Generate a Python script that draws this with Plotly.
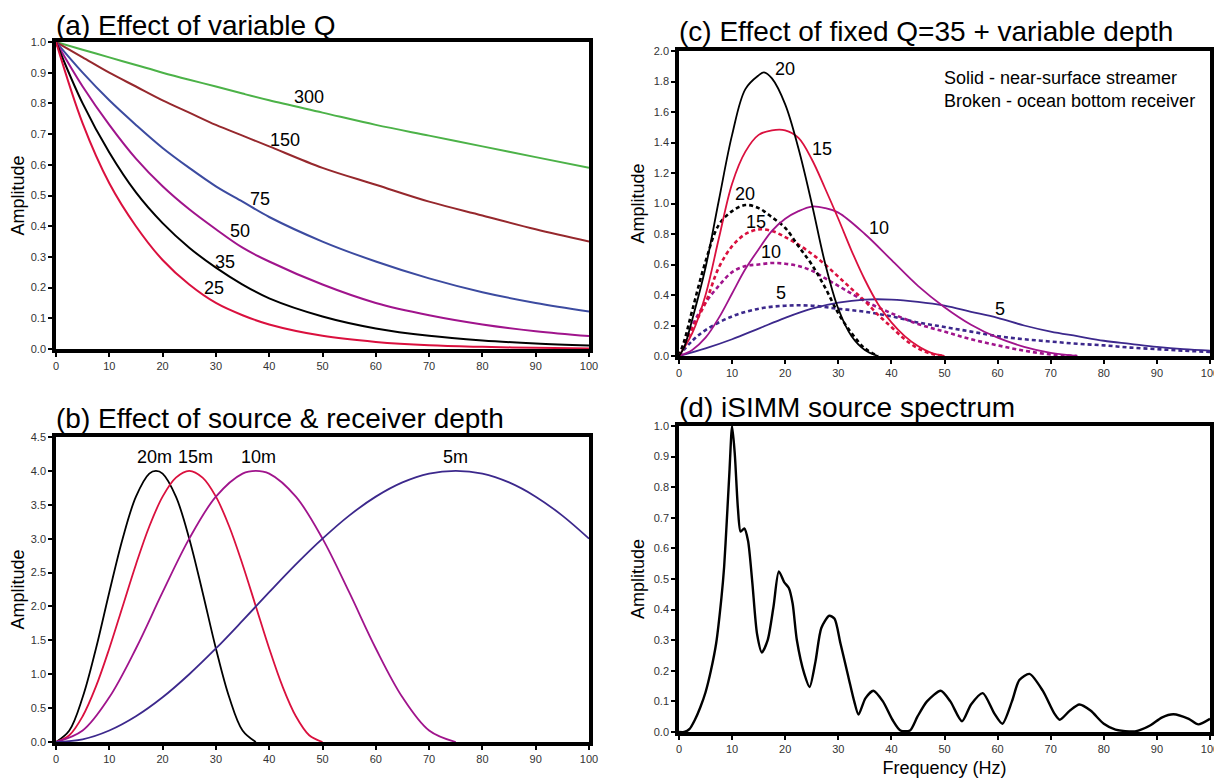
import plotly.graph_objects as go

# ---------------- (a) Effect of variable Q ----------------
freq_a = [0, 5, 10, 15, 20, 25, 30, 35, 40, 50, 60, 70, 80, 90, 100]
amp_q300 = [1.0, 0.975, 0.95, 0.925, 0.90, 0.877, 0.855, 0.832, 0.81, 0.77, 0.73, 0.695, 0.66, 0.625, 0.59]
amp_q150 = [1.0, 0.95, 0.90, 0.855, 0.81, 0.77, 0.73, 0.695, 0.66, 0.59, 0.535, 0.48, 0.435, 0.39, 0.35]
amp_q75 = [1.0, 0.90, 0.81, 0.73, 0.655, 0.59, 0.53, 0.48, 0.43, 0.35, 0.285, 0.23, 0.185, 0.15, 0.122]
amp_q50 = [1.0, 0.855, 0.73, 0.62, 0.53, 0.455, 0.39, 0.33, 0.285, 0.21, 0.15, 0.11, 0.08, 0.058, 0.042]
amp_q35 = [1.0, 0.80, 0.64, 0.51, 0.41, 0.33, 0.265, 0.21, 0.165, 0.106, 0.067, 0.043, 0.028, 0.018, 0.011]
amp_q25 = [1.0, 0.735, 0.54, 0.40, 0.29, 0.21, 0.15, 0.11, 0.08, 0.043, 0.023, 0.012, 0.007, 0.004, 0.002]
q_labels = ["300", "150", "75", "50", "35", "25"]

# ---------------- (b) Effect of source & receiver depth ----------------
freq_b20 = [0, 2.5, 5, 7.5, 10, 12.5, 15, 17.5, 18.75, 20, 22.5, 25, 27.5, 30, 32.5, 35, 37.5]
amp_b20 = [0, 0.17, 0.66, 1.38, 2.21, 3.0, 3.62, 3.96, 4.0, 3.96, 3.62, 3.0, 2.21, 1.38, 0.66, 0.17, 0]
freq_b15 = [0, 2.5, 5, 7.5, 10, 12.5, 15, 17.5, 20, 22.5, 25, 27.5, 30, 32.5, 35, 37.5, 40, 42.5, 45, 47.5, 50]
amp_b15 = [0, 0.1, 0.38, 0.82, 1.38, 2.0, 2.62, 3.18, 3.62, 3.9, 4.0, 3.9, 3.62, 3.18, 2.62, 2.0, 1.38, 0.82, 0.38, 0.1, 0]
freq_b10 = [0, 5, 10, 15, 20, 25, 30, 35, 37.5, 40, 45, 50, 55, 60, 65, 70, 75]
amp_b10 = [0, 0.17, 0.66, 1.38, 2.21, 3.0, 3.62, 3.96, 4.0, 3.96, 3.62, 3.0, 2.21, 1.38, 0.66, 0.17, 0]
freq_b5 = [0, 5, 10, 15, 20, 25, 30, 35, 40, 45, 50, 55, 60, 65, 70, 75, 80, 85, 90, 95, 100]
amp_b5 = [0, 0.04, 0.17, 0.38, 0.66, 1.0, 1.38, 1.79, 2.21, 2.62, 3.0, 3.34, 3.62, 3.83, 3.96, 4.0, 3.96, 3.83, 3.62, 3.34, 3.0]
depth_labels = ["20m", "15m", "10m", "5m"]

# ---------------- (c) Effect of fixed Q=35 + variable depth ----------------
# solid: near-surface streamer
freq_c20 = [0, 1, 2.5, 5, 7.5, 10, 12.5, 15, 16, 17.5, 20, 22.5, 25, 27.5, 30, 32.5, 35, 37.5]
amp_c20 = [0, 0.06, 0.24, 0.58, 1.02, 1.45, 1.75, 1.84, 1.86, 1.82, 1.65, 1.36, 1.0, 0.61, 0.31, 0.13, 0.04, 0]
freq_c15 = [0, 2.5, 5, 7.5, 10, 12.5, 15, 17.5, 20, 22.5, 25, 27.5, 30, 32.5, 35, 37.5, 40, 42.5, 45, 47.5, 50]
amp_c15 = [0, 0.15, 0.4, 0.77, 1.13, 1.34, 1.45, 1.48, 1.48, 1.43, 1.29, 1.1, 0.9, 0.69, 0.5, 0.34, 0.22, 0.13, 0.065, 0.02, 0]
freq_c10 = [0, 2.5, 5, 7.5, 10, 12.5, 15, 17.5, 20, 22.5, 25, 27.5, 30, 35, 40, 45, 50, 55, 60, 65, 70, 75]
amp_c10 = [0, 0.04, 0.12, 0.25, 0.41, 0.57, 0.7, 0.82, 0.9, 0.95, 0.98, 0.97, 0.94, 0.8, 0.63, 0.46, 0.32, 0.205, 0.12, 0.06, 0.02, 0]
freq_c5 = [0, 5, 10, 15, 20, 25, 30, 35, 40, 45, 50, 55, 60, 65, 70, 75, 80, 85, 90, 95, 100]
amp_c5 = [0, 0.05, 0.11, 0.18, 0.25, 0.31, 0.35, 0.37, 0.37, 0.355, 0.33, 0.29, 0.25, 0.2, 0.16, 0.13, 0.1, 0.08, 0.06, 0.045, 0.035]
# broken: ocean bottom receiver
freq_c20_obs = [0, 1, 2.5, 5, 7.5, 10, 12.5, 15, 17.5, 20, 22.5, 25, 27.5, 30, 32.5, 35, 37.5]
amp_c20_obs = [0, 0.1, 0.3, 0.62, 0.86, 0.95, 0.99, 0.97, 0.91, 0.84, 0.72, 0.6, 0.45, 0.28, 0.15, 0.05, 0]
freq_c15_obs = [0, 2.5, 5, 7.5, 10, 12.5, 15, 17.5, 20, 22.5, 25, 27.5, 30, 32.5, 35, 37.5, 40, 42.5, 45, 47.5, 50]
amp_c15_obs = [0, 0.18, 0.35, 0.58, 0.72, 0.8, 0.83, 0.82, 0.78, 0.73, 0.67, 0.6, 0.52, 0.44, 0.36, 0.27, 0.19, 0.11, 0.05, 0.015, 0]
freq_c10_obs = [0, 2.5, 5, 7.5, 10, 12.5, 15, 17.5, 20, 22.5, 25, 27.5, 30, 35, 40, 45, 50, 55, 60, 65, 70, 75]
amp_c10_obs = [0, 0.2, 0.35, 0.46, 0.55, 0.59, 0.6, 0.61, 0.605, 0.59, 0.56, 0.51, 0.46, 0.36, 0.28, 0.21, 0.16, 0.11, 0.07, 0.035, 0.01, 0]
freq_c5_obs = [0, 2.5, 5, 10, 15, 20, 25, 30, 35, 40, 45, 50, 55, 60, 65, 70, 75, 80, 85, 90, 95, 100]
amp_c5_obs = [0, 0.1, 0.17, 0.26, 0.31, 0.33, 0.33, 0.31, 0.29, 0.26, 0.22, 0.19, 0.16, 0.13, 0.11, 0.095, 0.08, 0.07, 0.055, 0.045, 0.035, 0.027]
c_labels = ["20", "15", "10", "5"]

# ---------------- (d) iSIMM source spectrum ----------------
freq_d = [0, 1, 2, 3, 4, 5, 6, 7, 8, 8.5, 9, 9.5, 10, 10.5, 11.1, 11.6, 12.3, 13, 13.8, 14.7,
          15.6, 16.7, 17.8, 18.8, 19.8, 20.7, 21.4, 22.2, 23.6, 24.6, 25.7, 26.8, 28.3, 29.3,
          30.4, 31.9, 33, 33.8, 35.1, 36.6, 38.4, 40.2, 41.7, 43.5, 44.9, 46.7, 49.3, 51.1,
          53.3, 55, 57.2, 59.4, 60.9, 62.7, 64.1, 66, 68.5, 70.7, 71.7, 73.6, 75.4, 77.5, 80,
          82.2, 85.9, 88.8, 90.9, 93.1, 96, 97.8, 100]
amp_d = [0, 0, 0.01, 0.04, 0.08, 0.13, 0.2, 0.29, 0.44, 0.54, 0.69, 0.85, 1.0, 0.91, 0.73,
         0.655, 0.665, 0.625, 0.49, 0.32, 0.26, 0.3, 0.41, 0.525, 0.49, 0.47, 0.42, 0.3, 0.19,
         0.147, 0.23, 0.34, 0.38, 0.37, 0.29, 0.18, 0.1, 0.057, 0.11, 0.135, 0.1, 0.04, 0.005,
         0.005, 0.05, 0.1, 0.135, 0.1, 0.035, 0.09, 0.127, 0.06, 0.027, 0.1, 0.17, 0.19, 0.135,
         0.06, 0.04, 0.07, 0.09, 0.07, 0.027, 0.008, 0.002, 0.022, 0.047, 0.058, 0.043, 0.025, 0.043]

GREEN = "rgb(76,178,72)"
BROWN = "rgb(150,40,45)"
BLUE_A = "rgb(60,75,160)"
PURPLE = "rgb(160,20,140)"
RED = "rgb(218,16,62)"
INDIGO = "rgb(60,40,140)"
BLACK = "black"
FONT = "Liberation Sans, Arial, sans-serif"

# the page body has an 8px margin, so the figure is shifted by that much
OFF = 8
W, H = 1222 - OFF, 782 - OFF


def px_x(p):
    return (p - OFF) / W


def px_y(p):
    return 1 - (p - OFF) / H


# plot boxes in page pixels (left, top, right, bottom)
boxes = {
    "a": (56, 42, 589, 349),
    "b": (56, 437, 589, 742),
    "c": (679, 51, 1210, 356),
    "d": (679, 426, 1210, 732),
}
axis_ids = {"a": "", "b": "2", "c": "3", "d": "4"}

fig = go.Figure()


def add_line(panel, x, y, color, width=2, dash="solid", smoothing=1.0):
    n = axis_ids[panel]
    fig.add_trace(go.Scatter(
        x=x, y=y, mode="lines",
        line=dict(color=color, width=width, dash=dash, shape="spline", smoothing=smoothing),
        xaxis="x" + n, yaxis="y" + n, showlegend=False, hoverinfo="skip",
    ))


# (a)
for amp, col in zip([amp_q300, amp_q150, amp_q75, amp_q50, amp_q35, amp_q25],
                    [GREEN, BROWN, BLUE_A, PURPLE, BLACK, RED]):
    add_line("a", freq_a, amp, col, width=2)

# (b)
for fx, amp, col in zip([freq_b20, freq_b15, freq_b10, freq_b5],
                        [amp_b20, amp_b15, amp_b10, amp_b5],
                        [BLACK, RED, PURPLE, INDIGO]):
    add_line("b", fx, amp, col, width=1.8)

# (c) broken first so solid sits on top
for fx, amp, col in zip([freq_c5_obs, freq_c10_obs, freq_c15_obs, freq_c20_obs],
                        [amp_c5_obs, amp_c10_obs, amp_c15_obs, amp_c20_obs],
                        [INDIGO, PURPLE, RED, BLACK]):
    add_line("c", fx, amp, col, width=2.6, dash="4px,3px")
for fx, amp, col in zip([freq_c5, freq_c10, freq_c15, freq_c20],
                        [amp_c5, amp_c10, amp_c15, amp_c20],
                        [INDIGO, PURPLE, RED, BLACK]):
    add_line("c", fx, amp, col, width=1.8)

# (d)
add_line("d", freq_d, amp_d, BLACK, width=2.4, smoothing=0.7)

y_ranges = {"a": (0, 1.0, 0.1), "b": (0, 4.5, 0.5), "c": (0, 2.0, 0.2), "d": (0, 1.0, 0.1)}

layout = dict(
    width=W, height=H,
    margin=dict(l=0, r=0, t=0, b=0, autoexpand=False),
    paper_bgcolor="white", plot_bgcolor="white",
    font=dict(family=FONT, color="black"),
)
for p, (l, t, r, b) in boxes.items():
    n = axis_ids[p]
    y0, y1, dy = y_ranges[p]
    layout["xaxis" + n] = dict(
        domain=[px_x(l), px_x(r)], anchor="y" + n, range=[0, 100], automargin=False,
        tickmode="linear", tick0=0, dtick=10, ticks="outside", ticklen=4, tickwidth=1.5,
        tickcolor="black", showline=True, linecolor="black", linewidth=3.5, mirror=True,
        showgrid=False, zeroline=False, tickfont=dict(size=11, color="#333333"),
    )
    layout["yaxis" + n] = dict(
        domain=[px_y(b), px_y(t)], anchor="x" + n, range=[y0, y1], automargin=False,
        tickmode="linear", tick0=0, dtick=dy, tickformat=".1f", ticks="outside", ticklen=4,
        tickwidth=1.5, tickcolor="black", showline=True, linecolor="black", linewidth=3.5,
        mirror=True, showgrid=False, zeroline=False, tickfont=dict(size=11, color="#333333"),
        title=dict(text="Amplitude", font=dict(size=18), standoff=5),
    )
layout["xaxis4"]["title"] = dict(text="Frequency (Hz)", font=dict(size=18), standoff=8)
fig.update_layout(**layout)

# panel titles (vertical centre in page pixels)
titles = {
    "a": ("(a) Effect of variable Q", 25),
    "b": ("(b) Effect of source & receiver depth", 418),
    "c": ("(c) Effect of fixed Q=35 + variable depth", 31),
    "d": ("(d) iSIMM source spectrum", 407),
}
for p, (txt, cy) in titles.items():
    l, t, r, b = boxes[p]
    fig.add_annotation(text=txt, xref="paper", yref="paper", x=px_x(l - 2), y=px_y(cy),
                       xanchor="left", yanchor="middle", showarrow=False,
                       font=dict(size=28, family=FONT, color="black"))

# curve labels
label_pos_a = [(47.4, 0.82), (43, 0.68), (38.2, 0.49), (34.6, 0.383), (31.7, 0.285), (29.6, 0.2)]
for txt, (lx, ly) in zip(q_labels, label_pos_a):
    fig.add_annotation(text=txt, x=lx, y=ly, xref="x", yref="y", showarrow=False,
                       font=dict(size=18, color="black"))

label_pos_b = [(18.4, 4.2), (26.2, 4.2), (37.9, 4.2), (75, 4.2)]
for txt, (lx, ly) in zip(depth_labels, label_pos_b):
    fig.add_annotation(text=txt, x=lx, y=ly, xref="x2", yref="y2", showarrow=False,
                       font=dict(size=18, color="black"))

label_pos_c = [(19.9, 1.88), (27, 1.36), (37.7, 0.84), (60.5, 0.31)]
label_pos_c_obs = [(12.5, 1.06), (14.5, 0.88), (17.4, 0.68), (19.3, 0.41)]
for txt, (lx, ly) in zip(c_labels + c_labels, label_pos_c + label_pos_c_obs):
    fig.add_annotation(text=txt, x=lx, y=ly, xref="x3", yref="y3", showarrow=False,
                       font=dict(size=18, color="black"))

fig.add_annotation(text="Solid - near-surface streamer<br>Broken - ocean bottom receiver",
                   x=49.5, y=1.9, xref="x3", yref="y3", xanchor="left", yanchor="top",
                   align="left", showarrow=False, font=dict(size=18, color="black"))

fig.write_html("out.html")
